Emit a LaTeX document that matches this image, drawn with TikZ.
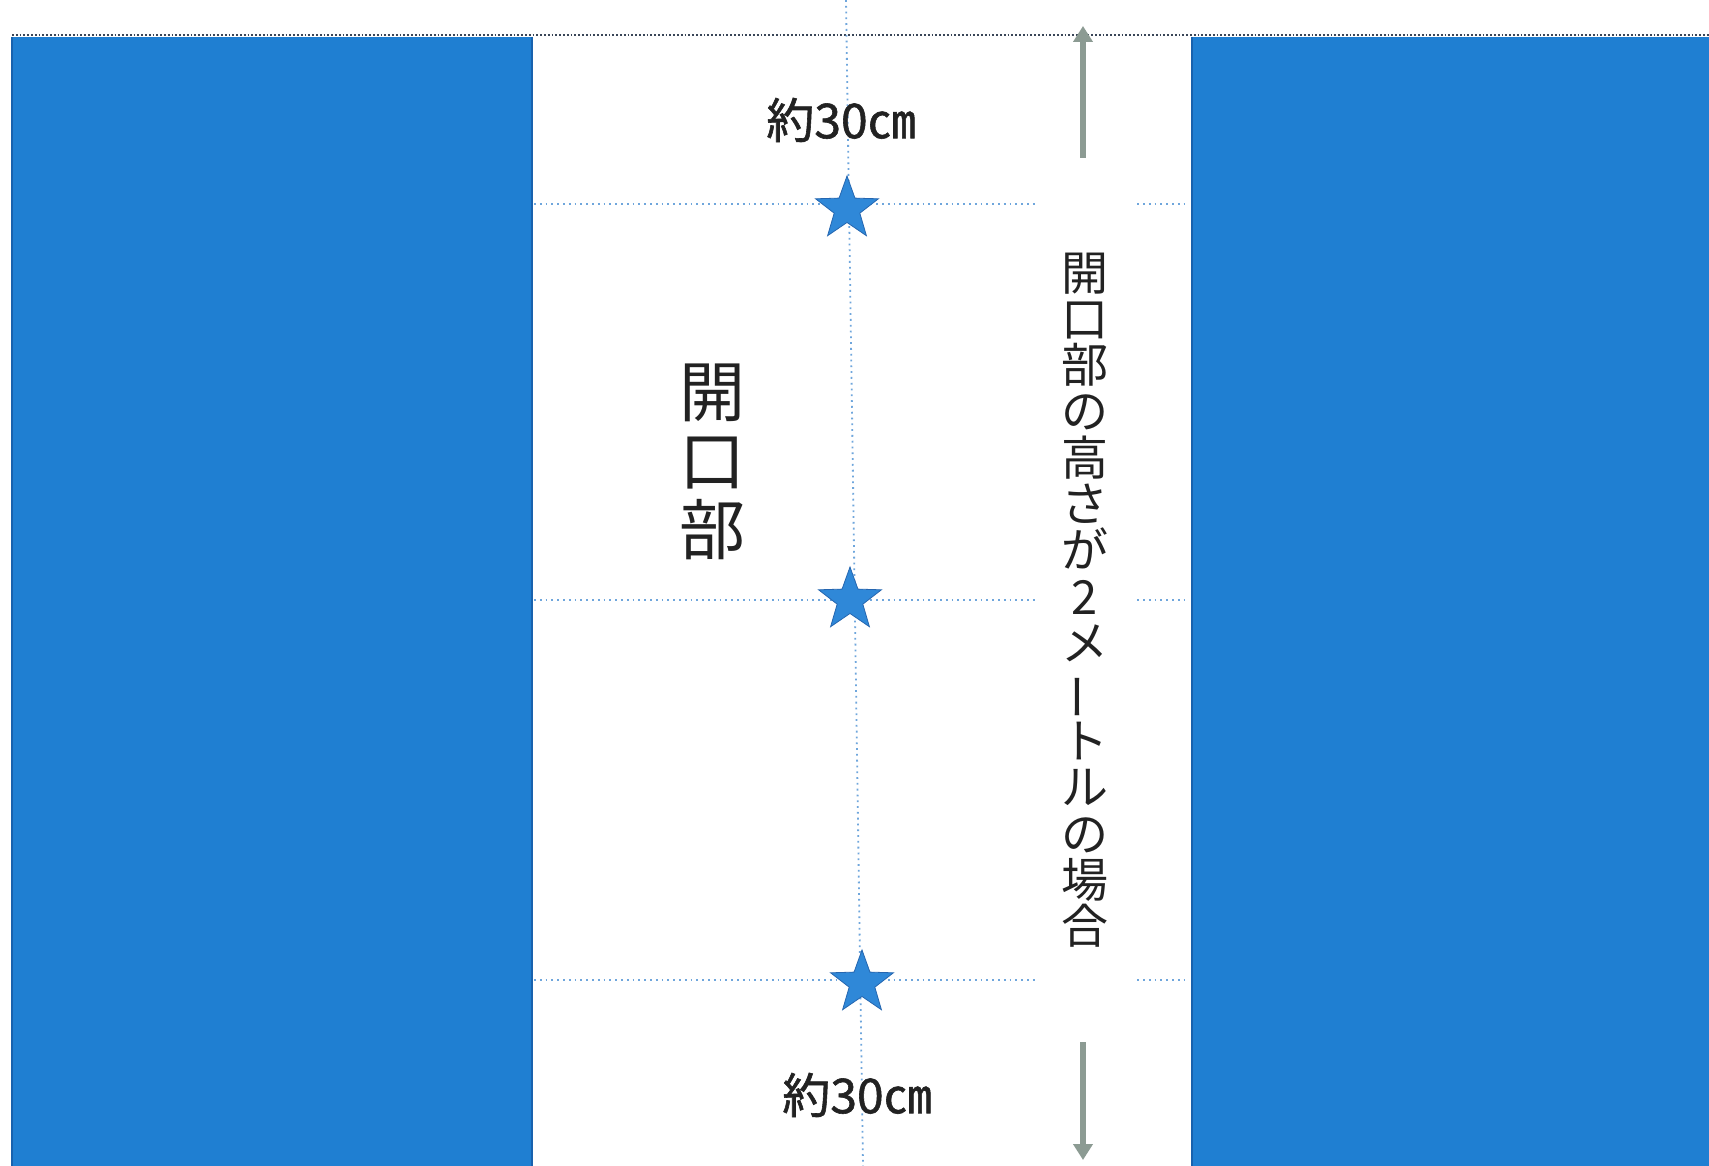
\documentclass[tikz,border=0pt]{standalone}
\usepackage{fontspec}
\usepackage{graphicx}
\newfontfamily\jp{Noto Sans CJK JP}
\newfontfamily\jpheavy[FakeBold=1.2]{Noto Sans CJK JP}
\usetikzlibrary{shapes.geometric,arrows.meta}
\definecolor{wallblue}{HTML}{1F7FD2}
\definecolor{walledge}{HTML}{1862AE}
\definecolor{guide}{HTML}{6FA6DC}
\definecolor{starblue}{HTML}{2F88D8}
\definecolor{staredge}{HTML}{2566B0}
\definecolor{arrowgray}{HTML}{8C9B93}
\definecolor{topline}{HTML}{3A4658}
\definecolor{inktext}{HTML}{222222}
\begin{document}
\begin{tikzpicture}[x=0.5pt,y=-0.5pt,
  guideline/.style={guide, dotted, line width=0.9pt},
  starmark/.style={star, star points=5, star point ratio=2.45, fill=starblue, draw=staredge, line width=0.4pt, minimum size=33pt, inner sep=0pt},
  dimlabel/.style={font=\jpheavy\fontsize{24}{24}\selectfont, text=inktext, inner sep=0pt},
  biglabel/.style={font=\jp\fontsize{33}{34.5}\selectfont, text=inktext, align=center, inner sep=0pt},
  heightlabel/.style={font=\jp\fontsize{23.5}{23.15}\selectfont, text=inktext, align=center, fill=white, inner sep=0pt, minimum width=50pt, minimum height=430pt},
  dimarrow/.style={arrowgray, line width=3pt, -{Triangle[width=9.5pt,length=8pt]}}
]
\useasboundingbox (0,0) rectangle (1709,1166);
\fill[white] (0,0) rectangle (1709,1166);
% walls
\fill[wallblue] (12,37) rectangle (532,1166);
\fill[wallblue] (1192,37) rectangle (1709,1166);
\draw[walledge, line width=0.6pt] (12,37) -- (12,1166);
\draw[walledge, line width=0.6pt] (532,37) -- (532,1166);
\draw[walledge, line width=0.6pt] (1192,37) -- (1192,1166);
\draw[topline, densely dotted, line width=0.9pt] (12,35) -- (1709,35);
% guide lines
\draw[guideline] (534,204) -- (1188,204);
\draw[guideline] (534,600) -- (1188,600);
\draw[guideline] (534,980) -- (1188,980);
\draw[guideline] (846,0) -- (863,1166);
% stars
\node[starmark] (s1) at (847,209) {};
\node[starmark] (s2) at (850,600) {};
\node[starmark] (s3) at (862,983) {};
% labels
\node[dimlabel] (t1) at (841,120) {約30㎝};
\node[dimlabel] (t2) at (857,1095) {約30㎝};
\node[biglabel] (k) at (712,462) {開\\口\\部};
\node[heightlabel] (h) at (1085,600) {開\\口\\部\\の\\高\\さ\\が\\2\\メ\\\rotatebox[origin=c]{90}{ー}\\ト\\ル\\の\\場\\合};
% arrows
\coordinate (a1s) at (1083,158);
\coordinate (a1e) at (1083,26);
\coordinate (a2s) at (1083,1042);
\coordinate (a2e) at (1083,1160);
\draw[dimarrow] (a1s) -- (a1e);
\draw[dimarrow] (a2s) -- (a2e);
\end{tikzpicture}
\end{document}
